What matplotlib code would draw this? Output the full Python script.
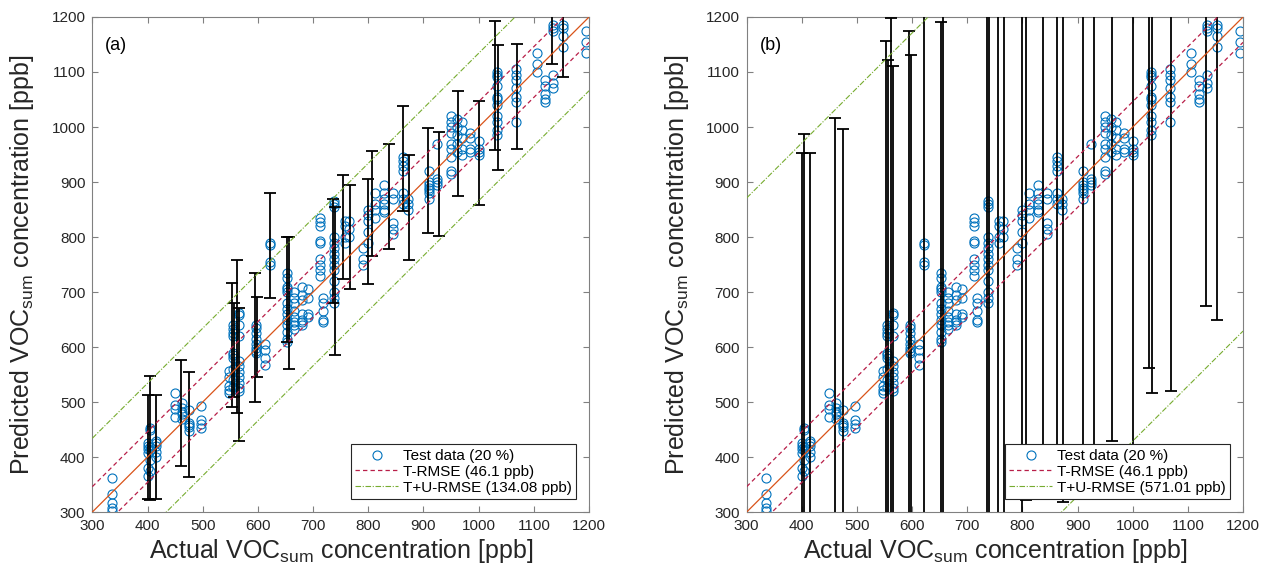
import numpy as np
import matplotlib
matplotlib.use("Agg")
import matplotlib.pyplot as plt
from matplotlib.lines import Line2D

plt.rcParams["font.family"] = ["Liberation Sans", "DejaVu Sans"]
plt.rcParams["mathtext.fontset"] = "custom"
plt.rcParams["mathtext.rm"] = "Liberation Sans"
plt.rcParams["mathtext.it"] = "Liberation Sans:italic"

# ── Test data: actual level -> predicted values read at that level ───────────
levels = [335, 400, 404, 415, 450, 462, 475, 497, 548, 555, 565, 597, 613,
          622, 652, 665, 680, 690, 718, 712, 738, 757, 765, 790, 800, 812,
          828, 845, 862, 872, 910, 925, 950, 960, 970, 985, 1000, 1033,
          1067, 1105, 1120, 1135, 1153, 1195]
predicted = [
    [362, 332, 317, 307, 301],
    [365, 380, 408, 415, 420, 425],
    [452, 450, 418, 412, 375, 395],
    [430, 420, 410, 400, 425],
    [517, 495, 488, 472],
    [498, 482, 478, 470, 490],
    [462, 458, 448, 485, 455],
    [493, 468, 460, 452],
    [557, 545, 530, 522, 517],
    [640, 632, 625, 620, 590, 585, 580, 560, 540, 528],
    [662, 658, 640, 620, 575, 565, 555, 545, 535, 525, 520],
    [640, 635, 625, 615, 605, 598, 592, 590],
    [605, 595, 580, 567],
    [790, 785, 755, 750],
    [735, 725, 710, 705, 700, 680, 670, 660, 650, 640, 628, 615, 610],
    [700, 690, 680, 665, 655, 645, 640, 633],
    [710, 695, 685, 660, 650, 645, 640],
    [705, 690, 660, 655],
    [690, 680, 665, 650, 645],
    [835, 828, 820, 793, 790, 760, 750, 740, 730],
    [865, 860, 855, 800, 790, 780, 770, 760, 750, 740, 720, 700, 690, 680],
    [830, 820, 800, 790],
    [830, 815, 800],
    [780, 760, 750],
    [850, 840, 830, 810, 790],
    [880, 860, 850, 835],
    [895, 880, 870, 860, 850, 845],
    [825, 815, 805, 880, 870],
    [945, 938, 930, 920, 880, 870, 860],
    [870, 860, 850],
    [920, 900, 895, 890, 885, 880, 870],
    [970, 905, 900, 895],
    [1020, 1010, 1000, 990, 970, 960, 945, 920, 915],
    [1015, 1000, 985, 970, 955],
    [1010, 995, 980, 960, 950],
    [990, 980, 960, 955],
    [975, 960, 955, 950],
    [1100, 1095, 1090, 1075, 1055, 1050, 1040, 1020, 1010, 995, 985],
    [1105, 1095, 1085, 1070, 1055, 1045, 1010],
    [1135, 1115, 1100],
    [1085, 1075, 1060, 1050, 1045],
    [1185, 1180, 1175, 1095, 1080, 1070],
    [1185, 1180, 1165, 1145],
    [1175, 1155, 1135],
]

# ── Points carrying an uncertainty bar ────────────────────────────────────────
eb_actual = [400, 404, 415, 461, 475, 553, 557, 562, 565, 595, 598, 622, 653,
             656, 736, 740, 755, 767, 800, 806, 838, 862, 873, 909, 929, 962,
             1001, 1030, 1035, 1069, 1133, 1152]
eb_pred = [418, 435, 418, 480, 459, 604, 595, 619, 550, 617, 618, 785, 705,
           680, 775, 720, 818, 800, 810, 861, 874, 943, 854, 903, 896, 970,
           953, 1075, 1035, 1055, 1185, 1185]
err_a = [95, 113, 95, 96, 95, 113, 85, 139, 121, 117, 73, 95, 95,
         120, 95, 135, 95, 95, 95, 96, 96, 95, 95, 95, 95, 95,
         95, 117, 114, 95, 71, 95]
err_b = [534, 552, 534, 537, 537, 553, 526, 580, 560, 558, 513, 600, 486,
         600, 600, 600, 540, 540, 540, 540, 540, 540, 535, 540, 540, 540,
         540, 514, 518, 535, 510, 535]

T_RMSE = 46.1
TU_RMSE_A = 134.08
TU_RMSE_B = 571.01

BLUE = "#0072BD"
ORANGE = "#D95319"
CRIMSON = "#B81E48"
GREEN = "#77AC30"
FRAME = "#808080"

actual = np.repeat(levels, [len(p) for p in predicted])
pred = np.concatenate([np.array(p, dtype=float) for p in predicted])
diag = np.array([300.0, 1200.0])


def panel(ax, err, tu, tag):
    ax.plot(actual, pred, "o", mfc="none", mec=BLUE, ms=6.5, mew=0.8, zorder=2)
    ax.errorbar(eb_actual, eb_pred, yerr=err, fmt="none", ecolor="black",
                elinewidth=1.3, capsize=4.3, capthick=1.3, zorder=3)
    ax.plot(diag, diag, color=ORANGE, lw=0.9, zorder=4)
    dash = (0, (3.5, 2.5))
    dashdot = (0, (5, 1.5, 1, 1.5))
    for s in (1, -1):
        ax.plot(diag, diag + s * T_RMSE, color=CRIMSON, lw=0.9, ls=dash, zorder=4)
        ax.plot(diag, diag + s * tu, color=GREEN, lw=0.8, ls=dashdot, zorder=4)

    ax.set_xlim(300, 1200)
    ax.set_ylim(300, 1200)
    ax.set_xticks(range(300, 1201, 100))
    ax.set_yticks(range(300, 1201, 100))
    ax.tick_params(direction="in", top=True, right=True, length=4, width=0.8,
                   color=FRAME, labelsize=11, labelcolor="#262626", pad=5)
    for sp in ax.spines.values():
        sp.set_color(FRAME)
        sp.set_linewidth(0.8)

    ax.set_xlabel(r"Actual VOC$_{\mathrm{sum}}$ concentration [ppb]", fontsize=18,
                  color="#262626")
    ax.set_ylabel(r"Predicted VOC$_{\mathrm{sum}}$ concentration [ppb]", fontsize=18,
                  color="#262626")
    ax.xaxis.set_label_coords(0.5, -0.05)
    ax.yaxis.set_label_coords(-0.113, 0.5)
    ax.text(0.026, 0.943, tag, transform=ax.transAxes, fontsize=13,
            va="center", ha="left")

    handles = [
        Line2D([], [], ls="none", marker="o", mfc="none", mec=BLUE, ms=6.5, mew=0.8),
        Line2D([], [], color=CRIMSON, lw=0.9, ls=dash),
        Line2D([], [], color=GREEN, lw=0.8, ls=dashdot),
    ]
    labels = ["Test data (20 %)", f"T-RMSE ({T_RMSE} ppb)", f"T+U-RMSE ({tu:.2f} ppb)"]
    leg = ax.legend(handles, labels, loc="lower right", bbox_to_anchor=(0.974, 0.026),
                    borderaxespad=0, fontsize=11, handlelength=2.8, handletextpad=0.3,
                    labelspacing=0.12, borderpad=0.3, fancybox=False, framealpha=1,
                    edgecolor="#262626")
    leg.get_frame().set_linewidth(0.8)
    leg.set_zorder(10)


fig = plt.figure(figsize=(12.63, 5.8), dpi=100)
ax_a = fig.add_axes([0.0731, 0.1172, 0.3933, 0.8535])
ax_b = fig.add_axes([0.5912, 0.1172, 0.3930, 0.8535])

panel(ax_a, err_a, TU_RMSE_A, "(a)")
panel(ax_b, err_b, TU_RMSE_B, "(b)")

fig.savefig("out.png", dpi=100, facecolor="white")
